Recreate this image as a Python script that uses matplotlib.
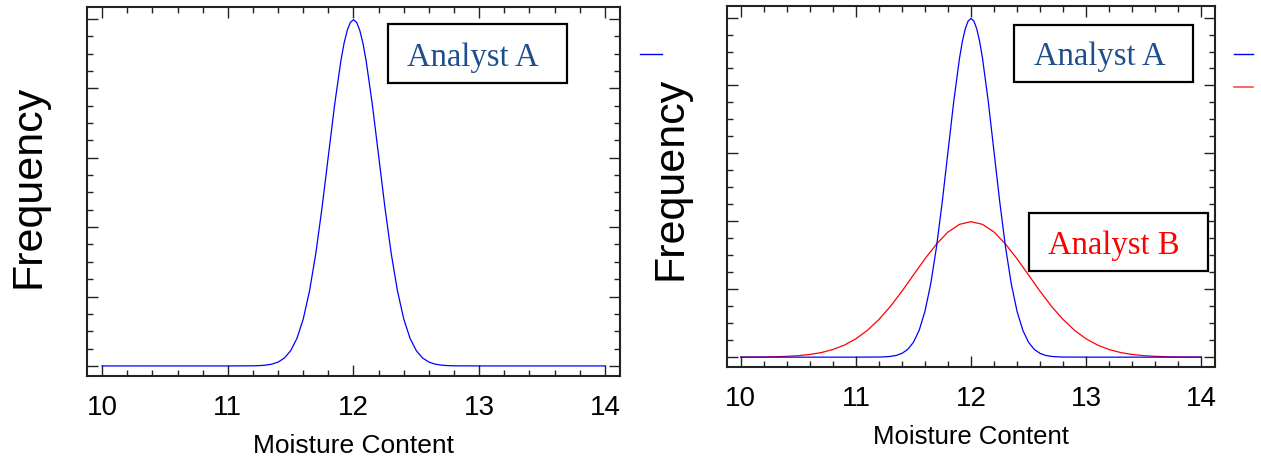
import numpy as np
import matplotlib
matplotlib.use("Agg")
import matplotlib.pyplot as plt
from matplotlib.patches import Rectangle
from matplotlib.lines import Line2D
from matplotlib.ticker import MultipleLocator

# Analyst A: narrow peak around 12
moisture_a = [10.0, 10.5, 11.0, 11.2, 11.25, 11.3, 11.35, 11.4, 11.45, 11.5, 11.55,
              11.6, 11.65, 11.7, 11.75, 11.8, 11.85, 11.9, 11.925, 11.95, 11.975, 12.0,
              12.025, 12.05, 12.075, 12.1, 12.15, 12.2, 12.25, 12.3, 12.35, 12.4,
              12.45, 12.5, 12.55, 12.6, 12.65, 12.7, 12.75, 12.8, 13.0, 13.5, 14.0]
freq_a = [0.0, 0.0, 0.0, 0.0007, 0.0018, 0.0044, 0.0101, 0.0222, 0.0455, 0.0876, 0.1587,
          0.2700, 0.4314, 0.6476, 0.9132, 1.2098, 1.5057, 1.7603, 1.8593, 1.9333, 1.9792, 1.9947,
          1.9792, 1.9333, 1.8593, 1.7603, 1.5057, 1.2098, 0.9132, 0.6476, 0.4314, 0.2700,
          0.1587, 0.0876, 0.0455, 0.0222, 0.0101, 0.0044, 0.0018, 0.0007, 0.0, 0.0, 0.0]

# Analyst B: wider spread around 12
moisture_b = [10.0, 10.1, 10.2, 10.3, 10.4, 10.5, 10.6, 10.7, 10.8, 10.9, 11.0,
              11.1, 11.2, 11.3, 11.4, 11.5, 11.6, 11.7, 11.8, 11.9, 12.0,
              12.1, 12.2, 12.3, 12.4, 12.5, 12.6, 12.7, 12.8, 12.9, 13.0,
              13.1, 13.2, 13.3, 13.4, 13.5, 13.6, 13.7, 13.8, 13.9, 14.0]
freq_b = [0.0003, 0.0006, 0.0012, 0.0025, 0.0048, 0.0089, 0.016, 0.027, 0.045, 0.071, 0.108,
          0.158, 0.222, 0.299, 0.388, 0.484, 0.579, 0.666, 0.737, 0.782, 0.798,
          0.782, 0.737, 0.666, 0.579, 0.484, 0.388, 0.299, 0.222, 0.158, 0.108,
          0.071, 0.045, 0.027, 0.016, 0.0089, 0.0048, 0.0025, 0.0012, 0.0006, 0.0003]

x_ticks = [10, 11, 12, 13, 14]
label_a = "Analyst A"
label_b = "Analyst B"

BLUE = "#0000ff"
RED = "#ff0000"
TEXT_BLUE = "#1f4e8c"

plt.rcParams['font.family'] = ['Liberation Sans', 'DejaVu Sans']


def style_axes(ax, xlabel_size, ylabel_xy):
    ax.set_xlim(9.88, 14.12)
    ax.set_ylim(-0.058, 2.068)
    ax.xaxis.set_major_locator(MultipleLocator(1))
    ax.xaxis.set_minor_locator(MultipleLocator(0.2))
    ax.yaxis.set_major_locator(MultipleLocator(0.4))
    ax.yaxis.set_minor_locator(MultipleLocator(0.1))
    ax.set_xticks(x_ticks)
    ax.set_xticklabels([str(t) for t in x_ticks])
    ax.tick_params(which='both', direction='in', top=True, right=True,
                   labelleft=False, width=1.0, color='#222222')
    ax.tick_params(which='major', length=8, labelsize=20, pad=13)
    ax.tick_params(which='minor', length=4)
    for s in ax.spines.values():
        s.set_linewidth(1.5)
        s.set_color('#222222')
    ax.set_xlabel("Moisture Content", fontsize=xlabel_size, labelpad=9)
    ax.set_ylabel("Frequency", fontsize=31)
    ax.yaxis.set_label_coords(*ylabel_xy)


def add_box(ax, x0, y0, x1, y1, tx, ty, text, color):
    rect = Rectangle((x0, y0), x1 - x0, y1 - y0, transform=ax.transAxes,
                     facecolor='white', edgecolor='black', linewidth=1.6, zorder=5)
    ax.add_patch(rect)
    ax.text(tx, ty, text, transform=ax.transAxes, ha='center', va='center',
            fontsize=23.5, color=color, family=['Liberation Serif', 'DejaVu Serif'], zorder=6)


fig = plt.figure(figsize=(12.61, 4.64), dpi=100)

# left panel
ax1 = fig.add_axes([87 / 1261, 87 / 464, 533 / 1261, 369 / 464])
ax1.plot(moisture_a, freq_a, color=BLUE, lw=0.9)
style_axes(ax1, 19, (-0.073, 0.516))
add_box(ax1, 0.565, 0.794, 0.9006, 0.954, 0.724, 0.865, label_a, TEXT_BLUE)
ax1.legend(handles=[Line2D([], [], color=BLUE, lw=1.0)], labels=[' '],
           loc='center left', bbox_to_anchor=(640 / 1261, 1 - 56 / 464),
           bbox_transform=fig.transFigure, frameon=False, fontsize=10,
           handlelength=1.6, handletextpad=0, borderpad=0, borderaxespad=0)

# right panel
ax2 = fig.add_axes([727 / 1261, 96 / 464, 488 / 1261, 361 / 464])
ax2.plot(moisture_b, freq_b, color=RED, lw=0.9)
ax2.plot(moisture_a, freq_a, color=BLUE, lw=0.9)
style_axes(ax2, 18.5, (-0.074, 0.526))
add_box(ax2, 0.588, 0.789, 0.955, 0.947, 0.764, 0.862, label_a, TEXT_BLUE)
add_box(ax2, 0.619, 0.266, 0.986, 0.4266, 0.793, 0.338, label_b, RED)
ax2.legend(handles=[Line2D([], [], color=BLUE, lw=1.0),
                    Line2D([], [], color='#ff4848', lw=1.2)],
           labels=[' ', ' '],
           loc='upper left', bbox_to_anchor=(1234 / 1261, 1 - 49 / 464),
           bbox_transform=fig.transFigure, frameon=False, fontsize=10,
           handlelength=1.4, handletextpad=0, borderpad=0, borderaxespad=0,
           labelspacing=1.37)

fig.savefig("out.png", dpi=100)
